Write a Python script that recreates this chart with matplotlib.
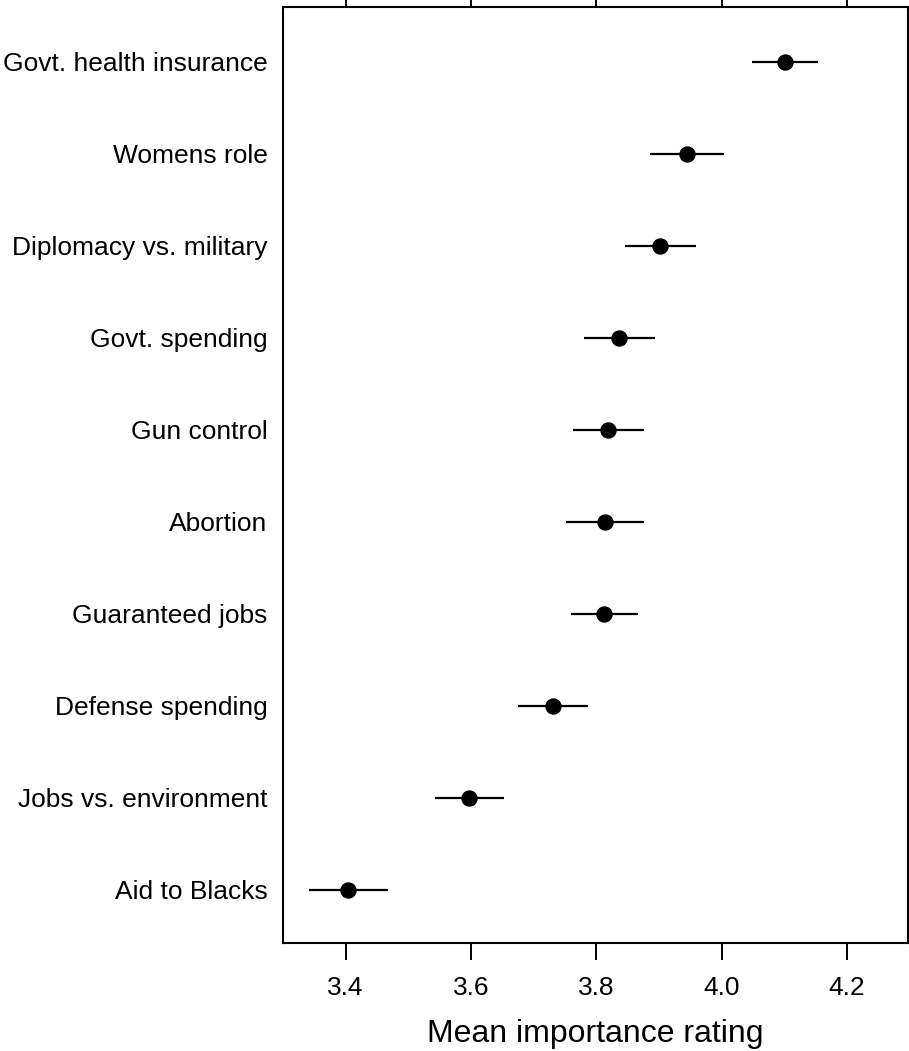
import numpy as np
import matplotlib.pyplot as plt

plt.rcParams["font.family"] = ["Liberation Sans", "DejaVu Sans"]

# issues, bottom to top
issues = [
    "Aid to Blacks",
    "Jobs vs. environment",
    "Defense spending",
    "Guaranteed jobs",
    "Abortion",
    "Gun control",
    "Govt. spending",
    "Diplomacy vs. military",
    "Womens role",
    "Govt. health insurance",
]
means = [3.404, 3.597, 3.731, 3.813, 3.814, 3.819, 3.837, 3.902, 3.944, 4.101]
lower = [3.341, 3.542, 3.675, 3.759, 3.752, 3.763, 3.780, 3.846, 3.886, 4.049]
upper = [3.467, 3.652, 3.786, 3.866, 3.876, 3.876, 3.894, 3.959, 4.003, 4.154]
xticks = [3.4, 3.6, 3.8, 4.0, 4.2]

pos = np.arange(1, len(issues) + 1)

fig = plt.figure(figsize=(9.09, 10.51), dpi=100)
ax = fig.add_axes([0.3113, 0.1028, 0.688, 0.8905])

ax.hlines(pos, lower, upper, color="black", linewidth=1.6)
ax.plot(means, pos, "o", color="black", markersize=10.8)

ax.set_xlim(3.30, 4.298)
ax.set_ylim(0.424, 10.595)

ax.set_xticks(xticks)
ax.set_xticklabels([f"{t:.1f}" for t in xticks], fontsize=19)
ax.set_yticks(pos)
ax.set_yticklabels(issues, fontsize=19)

ax.tick_params(axis="x", top=True, direction="out", length=12, width=1.4, pad=11.5)
ax.tick_params(axis="y", length=0, pad=11)

for sp in ax.spines.values():
    sp.set_linewidth(1.5)

ax.set_xlabel("Mean importance rating", fontsize=23, labelpad=14)

plt.savefig("out.png", dpi=100)
